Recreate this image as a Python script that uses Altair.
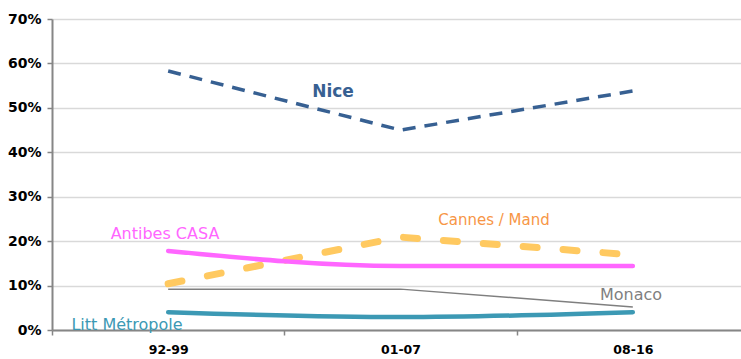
import altair as alt
import pandas as pd

# Periods and share of each territory
periods = ["92-99", "01-07", "08-16"]
nice = [0.583, 0.450, 0.538]
cannes = [0.104, 0.209, 0.169]
antibes = [0.178, 0.144, 0.144]
monaco = [0.092, 0.092, 0.052]
litt = [0.040, 0.029, 0.040]

series = {
    "Nice": nice,
    "Cannes / Mand": cannes,
    "Antibes CASA": antibes,
    "Monaco": monaco,
    "Litt Métropole": litt,
}

rows = []
for name, vals in series.items():
    for p, v in zip(periods, vals):
        rows.append({"periode": p, "part": v, "serie": name})
df = pd.DataFrame(rows)

FONT = "DejaVu Sans"

x_enc = alt.X(
    "periode:N",
    sort=periods,
    scale=alt.Scale(domain=periods, range=[0, 697], paddingInner=0, paddingOuter=0),
    axis=alt.Axis(
        title=None,
        labelAngle=0,
        labelFont=FONT,
        labelFontWeight="bold",
        labelFontSize=12.5,
        labelColor="#000000",
        labelPadding=8,
        tickBand="extent",
        tickSize=5,
        tickColor="#868686",
        tickWidth=1.5,
        domainColor="#868686",
        domainWidth=2,
        grid=False,
    ),
)
y_enc = alt.Y(
    "part:Q",
    scale=alt.Scale(domain=[0, 0.7], nice=False),
    axis=alt.Axis(
        title=None,
        values=[0, 0.1, 0.2, 0.3, 0.4, 0.5, 0.6, 0.7],
        format=".0%",
        labelFont=FONT,
        labelFontWeight="bold",
        labelFontSize=14,
        labelColor="#000000",
        labelPadding=6,
        tickSize=5,
        tickColor="#868686",
        tickWidth=1.5,
        domainColor="#868686",
        domainWidth=2,
        grid=True,
        gridColor="#d9d9d9",
        gridWidth=1.5,
    ),
)

styles = [
    # (series, colour, width, dash, cap, interpolation)
    ("Monaco", "#7f7f7f", 1.5, None, "butt", "linear"),
    ("Cannes / Mand", "#ffc960", 7, [14, 26], "round", "linear"),
    ("Antibes CASA", "#ff66ff", 4.5, None, "round", "monotone"),
    ("Litt Métropole", "#3c99b4", 4.5, None, "round", "monotone"),
    ("Nice", "#376092", 3.5, [13, 9], "butt", "linear"),
]

layers = []
for name, color, width, dash, cap, interp in styles:
    kw = dict(color=color, strokeWidth=width, strokeCap=cap, interpolate=interp)
    if dash:
        kw["strokeDash"] = dash
    layers.append(
        alt.Chart(df[df.serie == name]).mark_line(**kw).encode(x=x_enc, y=y_enc)
    )

# Series labels placed beside their lines
labels = [
    ("Nice", "#376092", 17, "bold", 333, 97),
    ("Cannes / Mand", "#f79646", 15, "normal", 494, 225),
    ("Antibes CASA", "#ff66ff", 16, "normal", 165, 239),
    ("Monaco", "#7f7f7f", 16, "normal", 631, 300),
    ("Litt Métropole", "#3c99b4", 16, "normal", 127, 330),
]
for text, color, size, weight, px, py in labels:
    layers.append(
        alt.Chart(pd.DataFrame({"t": [text]}))
        .mark_text(
            text=text,
            font=FONT,
            fontSize=size,
            fontWeight=weight,
            color=color,
            align="center",
            baseline="alphabetic",
        )
        .encode(x=alt.value(px - 52), y=alt.value(py - 19))
    )

chart = (
    alt.layer(*layers)
    .properties(
        width=689,
        height=311,
        autosize=alt.AutoSizeParams(type="none"),
        padding={"left": 52, "top": 19, "right": 0, "bottom": 29},
        background="#ffffff",
    )
    .configure_view(stroke=None)
)

chart.save("out.html", embed_options={"renderer": "svg", "actions": False})
